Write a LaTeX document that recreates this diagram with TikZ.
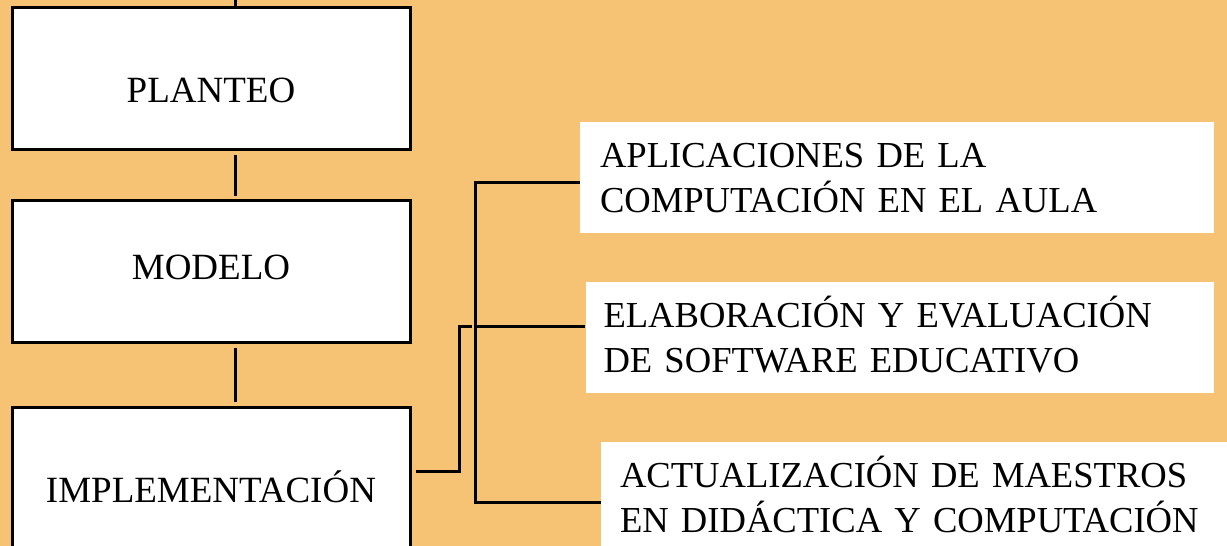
\documentclass[tikz,border=0pt]{standalone}
\usepackage{fontspec}
\setmainfont{Liberation Serif}
\usepackage{tikz}
\usetikzlibrary{positioning}

\definecolor{fondo}{RGB}{245,195,115}

\begin{document}
\begin{tikzpicture}[
            x=1pt, y=1pt,
            etapa/.style={rectangle, draw, line width=3pt, fill=white,
                minimum width=398pt, minimum height=142pt,
                text height=25pt, text depth=0pt,
                font=\fontsize{37}{44}\selectfont
            },
            rama/.style={rectangle, fill=white,
                text width=594pt, align=left, inner xsep=20pt,
                minimum height=111pt,
                text height=25pt, text depth=45pt,
                font=\fontsize{36.6}{45}\selectfont
            },
            line/.style={draw, line width=3pt}
        ]
            % Fondo
            \useasboundingbox (0,0) rectangle (1227,546);
            \fill [fondo] (0,0) rectangle (1227,546);

            % Columna izquierda
            \node [etapa, text height=48pt] at (211,467) (planteo) {PLANTEO};
            \node [etapa, below of=planteo, node distance=192.5pt, text height=17pt] (modelo) {MODELO};
            \node [etapa, below of=modelo, node distance=207.5pt, text height=48pt] (impl) {IMPLEMENTACIÓN};

            % Columna derecha
            \node [rama] at (897,368.5) (apl) {APLICACIONES DE LA\\COMPUTACIÓN EN EL AULA};
            \node [rama, below of=apl, node distance=160pt, xshift=2.75pt, text width=592.5pt, inner xsep=18pt] (soft) {ELABORACIÓN Y EVALUACIÓN\\DE SOFTWARE EDUCATIVO};
            \node [rama, below of=soft, node distance=160pt, xshift=17.25pt, inner xsep=19pt] (act) {ACTUALIZACIÓN DE MAESTROS\\EN DIDÁCTICA Y COMPUTACIÓN};

            % Enlaces verticales
            \coordinate (entrada) at (235,546);
            \path [line] (entrada) -- ([xshift=24pt]planteo.north);
            \path [line, shorten <=4pt, shorten >=3pt] ([xshift=24pt]planteo.south) -- ([xshift=24pt]modelo.north);
            \path [line, shorten <=4pt, shorten >=4pt] ([xshift=24pt]modelo.south) -- ([xshift=24pt]impl.north);

            % Corchetes
            \path [line, shorten <=4pt] ([yshift=7pt]impl.east) -| (459,219) -- (472,219);
            \path [line] ([yshift=-5.5pt]apl.west) -| (475,43) -- ([yshift=-5.5pt]act.west);
            \path [line] ([yshift=10.5pt]soft.west) -- (475,219);
        \end{tikzpicture}
\end{document}
